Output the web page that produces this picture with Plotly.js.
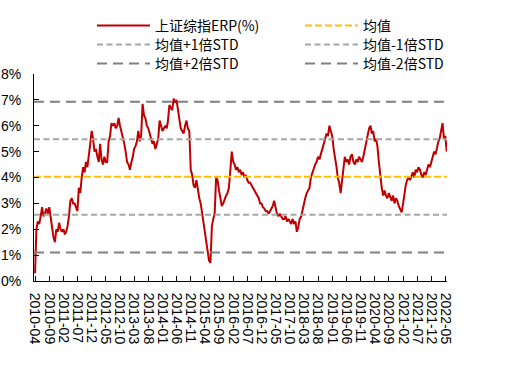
<!DOCTYPE html>
<html><head><meta charset="utf-8">
<script src="https://cdn.plot.ly/plotly-3.0.1.min.js"></script>
<style>html,body{margin:0;padding:0;background:#fff}</style>
</head><body><div id="chart" style="width:507px;height:383px"></div>
<script>
const seriesName = '上证综指ERP(%)';
// semi-monthly readings (1st and 16th of each month), 2010-04 .. 2022-05
const erpValues = [
 0.3,2.0, 2.3,2.2, 2.5,2.85, 2.5,2.6, 2.8,2.6, 2.85,2.5, 2.0,1.7, 1.5,2.0, 1.9,2.25,
 2.0,1.9, 2.0,1.8, 1.9,2.1, 2.5,3.1, 3.2,3.0, 3.0,2.8, 2.7,3.6, 3.4,4.0, 4.4,4.2, 4.6,4.4, 4.8,5.3, 5.8,5.5,
 5.0,5.1, 4.8,4.6, 5.3,4.7, 4.5,4.8, 4.6,4.6, 5.4,5.6, 6.1,6.0, 6.1,5.9, 6.0,6.3, 6.0,5.8, 5.6,5.3, 5.0,4.6,
 4.5,4.3, 4.6,4.8, 5.1,5.2, 5.4,5.8, 5.4,5.6, 6.85,6.4, 6.3,6.0, 5.9,5.7, 5.5,5.3, 5.4,5.1, 5.3,5.5, 6.2,6.0,
 5.8,5.9, 6.0,5.9, 6.2,6.8, 6.7,6.6, 7.05,6.9, 7.0,6.6, 6.3,5.9, 5.8,5.7, 6.0,6.2, 5.9,5.8, 4.3,4.1, 3.7,3.6,
 3.9,3.5, 3.2,3.0, 2.7,2.2, 2.0,1.6, 1.2,0.8, 0.7,2.1, 2.4,2.6, 4.0,3.9, 3.5,3.1, 2.9,3.0, 3.2,3.3, 3.4,3.6,
 4.3,5.0, 4.6,4.5, 4.3,4.4, 4.2,4.3, 4.1,4.2, 4.0,4.1, 3.9,3.8, 3.8,3.7, 3.6,3.5, 3.4,3.3, 3.2,3.0, 3.0,2.85,
 2.8,2.7, 2.7,2.6, 2.7,2.8, 2.9,3.1, 2.9,2.6, 2.5,2.6, 2.5,2.4, 2.4,2.5, 2.3,2.4, 2.3,2.2, 2.4,2.2, 2.3,1.9,
 2.1,2.4, 2.5,2.8, 3.0,3.2, 3.4,3.5, 3.6,4.0, 4.2,4.4, 4.5,4.6, 4.8,4.7, 4.9,5.1, 5.3,5.5, 5.7,5.6, 6.0,5.8,
 5.6,5.1, 4.8,4.4, 4.0,3.8, 3.4,3.9, 4.4,4.8, 4.6,4.7, 4.5,4.8, 4.9,4.6, 4.5,4.7, 4.6,4.8, 4.7,4.6, 4.8,5.1,
 5.4,5.6, 5.9,6.0, 5.7,5.8, 5.4,5.5, 5.2,4.6, 4.0,3.6, 3.3,3.5, 3.3,3.2, 3.4,3.2, 3.1,3.3, 3.0,3.2, 3.1,2.9,
 2.8,2.65, 3.0,3.5, 3.7,3.9, 4.0,3.9, 4.1,4.2, 4.0,4.3, 4.2,4.4, 4.3,4.1, 4.0,4.2, 4.1,4.3, 4.5,4.4, 4.6,4.8,
 5.0,4.9, 5.2,5.4, 5.5,5.8, 6.1,5.5, 5.6,5.0
];
const levelNames  = ['均值', '均值+1倍STD', '均值-1倍STD', '均值+2倍STD', '均值-2倍STD'];
const levelValues = [4.03, 5.48, 2.56, 6.93, 1.10];
const tickLabels = ['2010-04','2010-09','2011-02','2011-07','2011-12','2012-05','2012-10','2013-03',
 '2013-08','2014-01','2014-06','2014-11','2015-04','2015-09','2016-02','2016-07','2016-12','2017-05',
 '2017-10','2018-03','2018-08','2019-01','2019-06','2019-11','2020-04','2020-09','2021-02','2021-07',
 '2021-12','2022-05'];
const yTicks = [0,1,2,3,4,5,6,7,8];

// sampling dates for the readings
const erpDates = [];
(function(){
  let y = 2010, m = 4;
  while (erpDates.length < erpValues.length) {
    const mm = String(m).padStart(2,'0');
    erpDates.push(y + '-' + mm + '-01');
    if (erpDates.length < erpValues.length) erpDates.push(y + '-' + mm + '-16');
    m++; if (m > 12) { m = 1; y++; }
  }
})();

const xRange = ['2010-03-21', '2022-05-19'];
const levelStyles = [
  {color:'#FFC000', dash:'7px,3px'},
  {color:'#A6A6A6', dash:'6px,3.5px'},
  {color:'#A6A6A6', dash:'6px,3.5px'},
  {color:'#808080', dash:'10px,6px'},
  {color:'#808080', dash:'10px,6px'}
];
// one legend box per entry: 2 columns x 3 rows
const legendIds = ['legend', 'legend2', 'legend3', 'legend4', 'legend5', 'legend6'];

const traces = [{
  x: erpDates, y: erpValues, name: seriesName, type: 'scatter', mode: 'lines',
  line: {color:'#C00000', width:2}, legend: legendIds[0]
}];
levelValues.forEach((v, i) => {
  traces.push({
    x: xRange, y: [v, v], name: levelNames[i], type: 'scatter', mode: 'lines',
    line: {color: levelStyles[i].color, width: 2, dash: levelStyles[i].dash},
    legend: legendIds[i + 1], hoverinfo: 'skip'
  });
});

const legendFont = {family:'"Noto Sans CJK SC", "Noto Sans", sans-serif', size:14, color:'#000'};
const colX = [92, 300], rowTop = [10, 29, 48];
const layout = {
  width: 507, height: 383,
  margin: {l:34, r:60, t:74, b:102, pad:0, autoexpand:false},
  paper_bgcolor:'#fff', plot_bgcolor:'#fff',
  showlegend: true,
  xaxis: {type:'date', range: xRange, tickmode:'array', tickvals: tickLabels.map(s => s + '-01'),
          ticktext: tickLabels, tickangle: 90, ticks:'inside', ticklen:5, tickcolor:'#000',
          showline:true, linecolor:'#000', linewidth:1, showgrid:false, zeroline:false, automargin:false,
          tickfont:{family:'"Liberation Sans", Arial, sans-serif', size:14, color:'#000'},
          ticklabelstandoff: 8},
  yaxis: {range:[0,8], tickmode:'array', tickvals: yTicks, ticktext: yTicks.map(v => v + '%'),
          ticks:'inside', ticklen:5, tickcolor:'#000', showline:true, linecolor:'#000', linewidth:1,
          showgrid:false, zeroline:false, automargin:false,
          tickfont:{family:'"Liberation Sans", Arial, sans-serif', size:14, color:'#000'},
          ticklabelstandoff: 9}
};
legendIds.forEach((id, k) => {
  layout[id] = {x: colX[k % 2] / 507, y: 1 - rowTop[Math.floor(k / 2)] / 383,
    xref:'container', yref:'container', xanchor:'left', yanchor:'top', orientation:'v',
    font: legendFont, itemwidth: 53, bgcolor:'rgba(0,0,0,0)'};
});
Plotly.newPlot('chart', traces, layout, {staticPlot:true, displayModeBar:false});
</script></body></html>
